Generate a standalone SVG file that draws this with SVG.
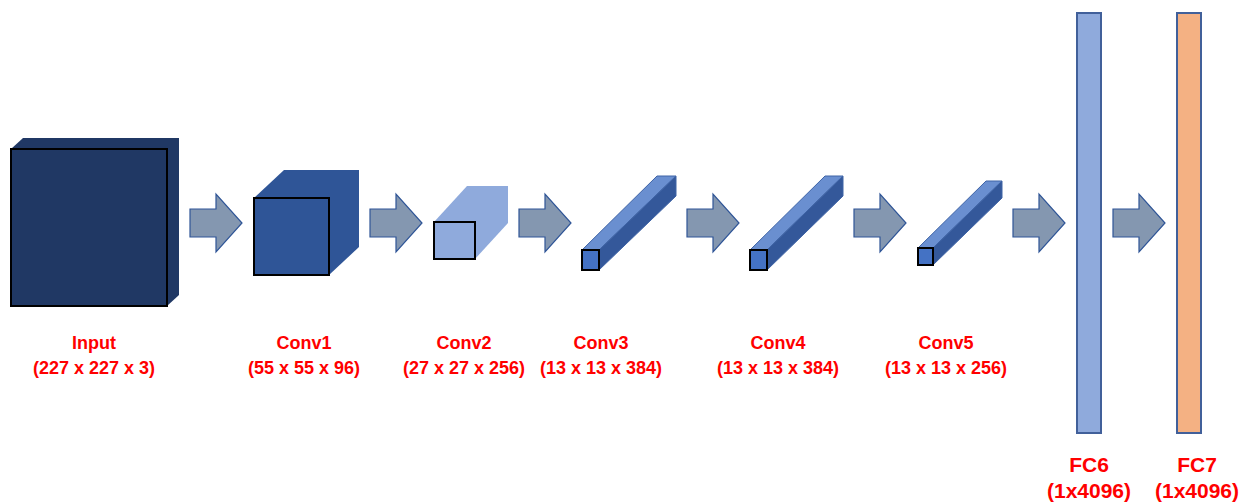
<svg xmlns="http://www.w3.org/2000/svg" xmlns:xlink="http://www.w3.org/1999/xlink" width="1241" height="502" viewBox="0 0 1241 502">
  <style>
    .lbl { font-family: "Liberation Sans", Arial, sans-serif; font-weight: bold; font-size: 18px; fill: #ff0000; text-anchor: middle; }
    .lbl-fc { font-size: 21px; }
    .front { stroke: #000000; stroke-width: 2; }
    .bar-top { fill: #6a8fd0; stroke: #3f64a6; stroke-width: 1; stroke-linejoin: round; }
    .bar-side { fill: #34589a; stroke: #3f64a6; stroke-width: 1; stroke-linejoin: round; }
    .bar-front { fill: #4472c4; stroke: #000000; stroke-width: 2; }
    .fc { stroke: #41609a; stroke-width: 2; }
    .arrow { fill: #8497b0; stroke: #2f5597; stroke-width: 1.2; stroke-linejoin: miter; }
  </style>
  <defs>
    <!-- block arrow, origin at the tail's vertical centre -->
    <path id="blockArrow" class="arrow" d="M0,-14 H26 V-29 L52,0 L26,29 V14 H0 Z"/>
  </defs>

  <rect width="1241" height="502" fill="#ffffff"/>

  <g id="connectors">
    <use xlink:href="#blockArrow" href="#blockArrow" x="190" y="223"/>
    <use xlink:href="#blockArrow" href="#blockArrow" x="370" y="223"/>
    <use xlink:href="#blockArrow" href="#blockArrow" x="519" y="223"/>
    <use xlink:href="#blockArrow" href="#blockArrow" x="687" y="223"/>
    <use xlink:href="#blockArrow" href="#blockArrow" x="854" y="223"/>
    <use xlink:href="#blockArrow" href="#blockArrow" x="1013" y="223"/>
    <use xlink:href="#blockArrow" href="#blockArrow" x="1113" y="223"/>
  </g>

  <g id="input">
    <polygon points="11,149 23,138 179,138 179,295 167,306 11,306" fill="#203864"/>
    <rect class="front" x="11" y="149" width="156" height="157" fill="#203864"/>
    <text class="lbl" x="94" y="349">Input</text>
    <text class="lbl" x="94" y="374">(227 x 227 x 3)</text>
  </g>

  <g id="conv1">
    <polygon points="254,198 284,170 359,170 359,247 329,275 254,275" fill="#2f5597"/>
    <rect class="front" x="254" y="198" width="75" height="77" fill="#2f5597"/>
    <text class="lbl" x="304" y="349">Conv1</text>
    <text class="lbl" x="304" y="374">(55 x 55 x 96)</text>
  </g>

  <g id="conv2">
    <polygon points="434,222 467,186 508,186 508,223 475,259 434,259" fill="#8faadc"/>
    <rect class="front" x="434" y="222" width="41" height="37" fill="#8faadc"/>
    <text class="lbl" x="464" y="349">Conv2</text>
    <text class="lbl" x="464" y="374">(27 x 27 x 256)</text>
  </g>

  <g id="conv3">
    <polygon class="bar-top" points="582,250 657,176 676,176 599,250"/>
    <polygon class="bar-side" points="599,250 676,176 676,196 599,270"/>
    <rect class="bar-front" x="582" y="250" width="17" height="20"/>
    <text class="lbl" x="601" y="349">Conv3</text>
    <text class="lbl" x="601" y="374">(13 x 13 x 384)</text>
  </g>

  <g id="conv4">
    <polygon class="bar-top" points="750,250 825,176 843,176 767,250"/>
    <polygon class="bar-side" points="767,250 843,176 843,196 767,270"/>
    <rect class="bar-front" x="750" y="250" width="17" height="20"/>
    <text class="lbl" x="778" y="349">Conv4</text>
    <text class="lbl" x="778" y="374">(13 x 13 x 384)</text>
  </g>

  <g id="conv5">
    <polygon class="bar-top" points="918,248 986,181 1002,181 933,248"/>
    <polygon class="bar-side" points="933,248 1002,181 1002,198 933,265"/>
    <rect class="bar-front" x="918" y="248" width="15" height="17"/>
    <text class="lbl" x="946" y="349">Conv5</text>
    <text class="lbl" x="946" y="374">(13 x 13 x 256)</text>
  </g>

  <g id="fc6">
    <rect class="fc" x="1077" y="13" width="24" height="420" fill="#8faadc"/>
    <text class="lbl lbl-fc" x="1089" y="472">FC6</text>
    <text class="lbl lbl-fc" x="1089" y="498">(1x4096)</text>
  </g>

  <g id="fc7">
    <rect class="fc" x="1177" y="13" width="24" height="420" fill="#f4b183"/>
    <text class="lbl lbl-fc" x="1197" y="472">FC7</text>
    <text class="lbl lbl-fc" x="1197" y="498">(1x4096)</text>
  </g>
</svg>
